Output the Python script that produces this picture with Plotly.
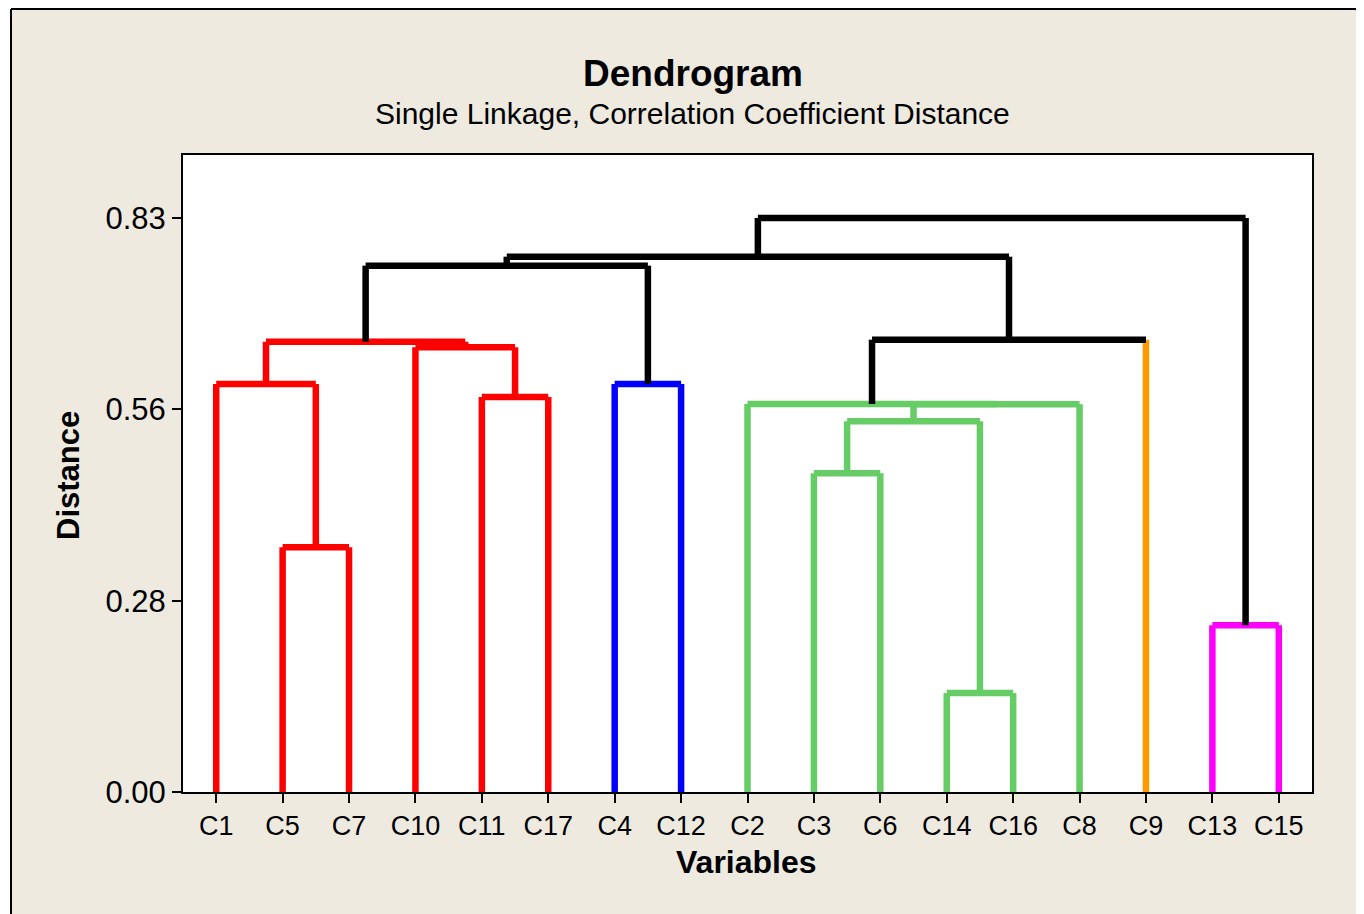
import plotly.graph_objects as go

# ---- data ----
leaves = ["C1", "C5", "C7", "C10", "C11", "C17", "C4", "C12", "C2",
          "C3", "C6", "C14", "C16", "C8", "C9", "C13", "C15"]
leaf_colors = {
    "C1": "#FF0000", "C5": "#FF0000", "C7": "#FF0000", "C10": "#FF0000",
    "C11": "#FF0000", "C17": "#FF0000", "C4": "#0000FF", "C12": "#0000FF",
    "C2": "#66CC66", "C3": "#66CC66", "C6": "#66CC66", "C14": "#66CC66",
    "C16": "#66CC66", "C8": "#66CC66", "C9": "#FF9900", "C13": "#FF00FF",
    "C15": "#FF00FF",
}
# merges: (left child, right child, distance, colour); internal nodes named m0, m1, ...
merge_left = ["C5", "C1", "C11", "C10", "m1", "C4", "m4", "C3", "C14", "m7", "m9", "C2", "m11", "m6", "C13", "m13"]
merge_right = ["C7", "m0", "C17", "m2", "m3", "C12", "m5", "C6", "C16", "m8", "C8", "m10", "C9", "m12", "C15", "m14"]
merge_dist = [0.354, 0.590, 0.571, 0.643, 0.651, 0.590, 0.761, 0.461, 0.143, 0.536, 0.5605, 0.561, 0.654, 0.774, 0.241, 0.830]
merge_color = ["#FF0000", "#FF0000", "#FF0000", "#FF0000", "#FF0000", "#0000FF", "#000000",
               "#66CC66", "#66CC66", "#66CC66", "#66CC66", "#66CC66", "#000000", "#000000",
               "#FF00FF", "#000000"]

y_tickvals = [0.0, 0.83 / 3, 2 * 0.83 / 3, 0.83]
y_ticktext = ["0.00", "0.28", "0.56", "0.83"]

# ---- build segments ----
pos = {name: i + 1 for i, name in enumerate(leaves)}
height = {name: 0.0 for name in leaves}
segs = {}  # colour -> (xs, ys)


def add(color, xs, ys):
    X, Y = segs.setdefault(color, ([], []))
    X.extend(xs + [None])
    Y.extend(ys + [None])


for k, (a, b, h, c) in enumerate(zip(merge_left, merge_right, merge_dist, merge_color)):
    xa, xb = pos[a], pos[b]
    ca = leaf_colors[a] if a in leaf_colors else c
    cb = leaf_colors[b] if b in leaf_colors else c
    add(ca, [xa, xa], [height[a], h])
    add(cb, [xb, xb], [height[b], h])
    add(c, [xa, xb], [h, h])
    name = f"m{k}"
    pos[name] = (xa + xb) / 2
    height[name] = h

fig = go.Figure()
order = ["#FF0000", "#0000FF", "#66CC66", "#FF9900", "#FF00FF", "#000000"]
for col in order:
    if col in segs:
        X, Y = segs[col]
        fig.add_trace(go.Scatter(x=X, y=Y, mode="lines",
                                 line=dict(color=col, width=6.5),
                                 hoverinfo="skip", showlegend=False))

BEIGE = "#EEEAE0"
FONT = "Liberation Sans"

# page has an 8px body margin; figure placed at (8, 8)
OFF = 8
W, H = 1356, 906
L, T = 183 - OFF, 155 - OFF
pw, ph = 1312 - 183, 792 - 155
R = W - L - pw
B = H - T - ph


def px(x):  # page pixel -> paper
    return (x - OFF - L) / pw


def py(y):
    return (T + ph - (y - OFF)) / ph


fig.update_layout(
    width=W, height=H,
    margin=dict(l=L, r=R, t=T, b=B),
    paper_bgcolor=BEIGE, plot_bgcolor="white",
    font=dict(family=FONT, color="black"),
    showlegend=False,
    xaxis=dict(
        range=[0.5, 17.5], tickmode="array",
        tickvals=list(range(1, len(leaves) + 1)), ticktext=leaves,
        ticks="outside", ticklen=9, tickwidth=2, tickcolor="black",
        showline=True, linecolor="black", linewidth=2, mirror=True,
        showgrid=False, zeroline=False, tickfont=dict(size=27, family=FONT),
        fixedrange=True,
    ),
    yaxis=dict(
        range=[0, 0.921], tickmode="array",
        tickvals=y_tickvals, ticktext=y_ticktext,
        ticks="outside", ticklen=9, tickwidth=2, tickcolor="black",
        showline=True, linecolor="black", linewidth=2, mirror=True,
        showgrid=False, zeroline=False, tickfont=dict(size=31, family=FONT),
        fixedrange=True,
    ),
    shapes=[
        dict(type="rect", xref="paper", yref="paper", x0=px(-50), x1=px(11), y0=py(2000), y1=py(-50),
             fillcolor="white", line=dict(width=0), layer="above"),
        dict(type="line", xref="paper", yref="paper", x0=px(11), x1=px(11), y0=py(9), y1=py(2000),
             line=dict(color="black", width=2)),
        dict(type="line", xref="paper", yref="paper", x0=px(11), x1=px(2000), y0=py(9), y1=py(9),
             line=dict(color="black", width=2)),
    ],
    annotations=[
        dict(text="<b>Dendrogram</b>", xref="paper", yref="paper", x=px(693), y=py(74),
             xanchor="center", yanchor="middle", showarrow=False, font=dict(size=37, family=FONT)),
        dict(text="Single Linkage, Correlation Coefficient Distance", xref="paper", yref="paper",
             x=px(692), y=py(114), xanchor="center", yanchor="middle", showarrow=False,
             font=dict(size=30, family=FONT)),
        dict(text="<b>Distance</b>", xref="paper", yref="paper", x=px(68), y=py(476),
             xanchor="center", yanchor="middle", showarrow=False, textangle=-90,
             font=dict(size=31, family=FONT)),
        dict(text="<b>Variables</b>", xref="paper", yref="paper", x=px(746), y=py(862),
             xanchor="center", yanchor="middle", showarrow=False, font=dict(size=32, family=FONT)),
    ],
)

fig.write_html("out.html")
